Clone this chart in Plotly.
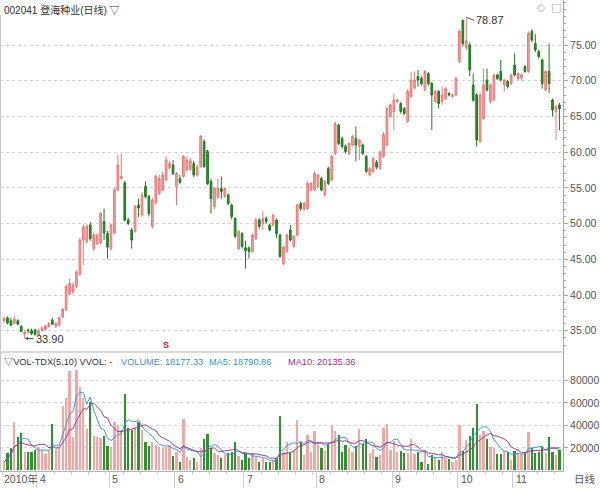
import plotly.graph_objects as go
import pandas as pd

# ---- data (daily bars, index = trading day) ----
open_ = [36.4, 36.8, 36.4, 36.0, 36.4, 35.6, 34.5, 35.1, 35.0, 35.1,
         34.4, 35.0, 35.2, 35.6, 36.5, 35.6, 35.8, 36.9, 37.9, 40.2,
         40.4, 41.2, 42.9, 47.7, 47.5, 49.8, 46.5, 47.2, 47.3, 50.3,
         48.6, 46.5, 48.7, 54.7, 56.3, 55.7, 50.5, 49.1, 48.9, 52.6,
         51.2, 55.2, 53.8, 49.6, 52.9, 54.2, 54.7, 56.1, 57.8, 58.2,
         55.2, 56.3, 56.6, 57.5, 57.6, 58.4, 56.8, 58.0, 61.5, 60.1,
         55.9, 52.4, 53.7, 54.9, 53.8, 54.0, 52.6, 50.7, 46.5, 48.6,
         46.6, 46.6, 46.1, 47.9, 50.5, 50.0, 50.7, 49.8, 49.8, 50.5,
         48.4, 44.4, 46.1, 49.1, 46.8, 48.4, 52.8, 52.0, 52.1, 54.7,
         54.7, 55.2, 56.3, 54.0, 57.7, 56.1, 59.8, 63.8, 61.9, 60.8,
         59.8, 61.0, 61.9, 60.8, 61.0, 59.4, 56.8, 57.3, 58.6, 57.7,
         59.4, 61.0, 65.0, 65.7, 67.1, 66.8, 66.1, 64.3, 67.8, 69.0,
         70.6, 70.3, 68.7, 71.0, 69.6, 67.1, 68.5, 67.1, 67.5, 68.2,
         67.8, 68.0, 72.7, 78.4, 74.6, 75.0, 69.4, 68.0, 61.5, 64.7,
         70.1, 67.1, 67.3, 70.8, 71.3, 69.4, 69.9, 69.6, 72.2, 70.3,
         70.4, 72.0, 71.3, 76.9, 75.2, 74.1, 72.9, 68.7, 71.3, 67.3,
         65.7, 66.6]
high = [37.0, 37.0, 36.8, 37.0, 36.6, 35.8, 35.0, 35.3, 35.3, 35.3,
        35.2, 35.6, 35.8, 36.2, 36.8, 36.2, 37.0, 38.2, 41.5, 42.3,
        41.8, 43.5, 48.0, 49.8, 49.9, 50.2, 48.8, 48.6, 51.6, 52.1,
        49.0, 50.0, 55.0, 59.6, 59.8, 56.0, 50.8, 49.4, 52.6, 53.5,
        54.4, 55.9, 54.0, 53.6, 56.9, 56.8, 57.3, 59.4, 58.8, 58.9,
        57.2, 56.8, 59.6, 59.4, 59.2, 58.8, 58.2, 62.4, 61.8, 60.3,
        56.3, 55.1, 56.3, 56.6, 55.1, 54.2, 52.8, 50.9, 49.1, 48.8,
        47.6, 46.8, 48.6, 50.8, 50.8, 51.7, 51.0, 50.0, 51.4, 50.7,
        48.6, 46.9, 48.6, 49.8, 48.4, 52.8, 53.1, 53.0, 55.9, 55.8,
        57.3, 57.0, 56.5, 56.1, 58.0, 59.6, 64.3, 64.0, 62.2, 61.0,
        61.4, 62.4, 63.6, 61.9, 61.2, 59.6, 57.9, 59.3, 58.9, 60.2,
        62.8, 66.4, 66.8, 68.2, 67.5, 67.0, 66.3, 68.8, 71.2, 71.3,
        71.5, 70.6, 71.5, 71.2, 69.8, 68.7, 68.7, 69.2, 69.1, 68.4,
        68.2, 70.6, 77.2, 78.6, 78.87, 75.4, 71.0, 68.3, 68.3, 71.7,
        71.7, 69.6, 71.0, 71.0, 72.9, 70.3, 70.1, 71.0, 73.8, 71.2,
        71.0, 72.2, 76.9, 77.2, 76.5, 74.3, 73.1, 71.5, 75.2, 67.5,
        66.6, 66.9]
low = [36.1, 35.9, 35.6, 35.9, 35.8, 34.8, 33.9, 34.6, 34.4, 34.3,
       34.2, 34.9, 35.0, 35.4, 35.8, 35.4, 35.6, 36.8, 37.8, 40.0,
       40.1, 41.0, 42.7, 44.2, 47.2, 47.6, 46.2, 47.0, 47.1, 47.7,
       45.1, 46.2, 48.5, 54.5, 56.2, 50.3, 49.8, 46.5, 48.7, 50.9,
       51.0, 53.5, 51.0, 49.3, 52.7, 54.0, 54.5, 55.9, 57.6, 56.8,
       52.6, 55.5, 56.4, 57.3, 57.4, 56.5, 56.6, 57.8, 57.8, 55.4,
       51.4, 52.0, 53.5, 53.5, 53.6, 52.6, 50.6, 48.0, 46.3, 46.5,
       43.7, 45.1, 45.9, 47.7, 49.3, 49.1, 50.0, 48.9, 49.6, 48.0,
       45.2, 44.2, 45.9, 47.5, 46.6, 48.2, 51.8, 51.8, 51.9, 54.5,
       54.5, 55.0, 54.5, 53.8, 55.4, 55.9, 59.6, 61.0, 60.5, 59.8,
       59.6, 60.8, 58.7, 58.9, 59.6, 57.1, 56.6, 57.1, 57.6, 57.5,
       59.2, 60.8, 64.8, 63.1, 66.9, 65.4, 65.2, 64.1, 67.6, 68.8,
       69.2, 69.3, 68.5, 69.3, 63.1, 66.9, 66.1, 66.6, 67.3, 67.8,
       67.6, 67.8, 72.5, 74.8, 74.3, 70.6, 67.0, 60.8, 61.3, 64.5,
       68.5, 66.8, 67.1, 70.1, 69.9, 68.5, 68.9, 69.4, 70.6, 70.1,
       70.0, 71.1, 71.1, 75.4, 74.0, 73.1, 68.9, 68.5, 68.3, 65.0,
       61.7, 63.1]
close = [36.7, 36.1, 35.8, 36.6, 35.9, 34.9, 34.8, 35.0, 34.6, 34.5,
         35.0, 35.4, 35.7, 36.0, 35.9, 36.0, 36.8, 38.0, 41.2, 41.6,
         41.4, 43.2, 47.7, 49.5, 49.6, 47.9, 48.4, 48.4, 51.4, 48.7,
         46.7, 49.8, 54.7, 58.2, 56.6, 50.5, 50.0, 47.7, 52.4, 52.2,
         54.0, 53.8, 51.4, 53.3, 56.6, 56.3, 56.8, 58.9, 58.4, 57.0,
         57.0, 55.8, 59.4, 58.9, 58.8, 56.8, 57.9, 62.2, 58.0, 55.6,
         53.5, 54.9, 54.9, 54.5, 54.9, 52.8, 51.0, 48.2, 48.9, 46.8,
         46.2, 46.1, 48.4, 50.5, 49.6, 50.7, 50.3, 49.1, 51.2, 48.6,
         45.4, 46.7, 48.4, 47.7, 48.2, 52.6, 52.1, 52.8, 55.6, 55.6,
         57.0, 56.8, 54.7, 55.9, 55.6, 59.4, 64.0, 61.2, 60.8, 60.1,
         61.2, 62.2, 61.0, 61.7, 59.8, 57.3, 57.7, 59.1, 57.9, 60.0,
         62.5, 66.1, 66.6, 67.3, 67.3, 65.7, 65.4, 68.5, 70.1, 70.1,
         70.1, 69.6, 71.3, 69.6, 68.0, 68.5, 66.8, 68.0, 68.9, 68.0,
         68.0, 70.3, 76.9, 75.2, 75.6, 71.5, 67.3, 61.7, 68.0, 69.4,
         68.7, 69.4, 70.8, 70.3, 70.1, 70.1, 69.2, 70.8, 70.8, 71.0,
         70.8, 71.3, 76.6, 75.7, 74.3, 73.4, 69.6, 71.3, 69.6, 65.9,
         66.4, 66.1]
volume = [7260, 15270, 19720, 42860, 29510, 33660, 16160, 16750, 16750, 18240,
          21200, 18240, 14380, 17340, 41080, 18240, 21200, 57700, 64200, 88550,
          30100, 89400, 74600, 64200, 36900, 61260, 31000, 30100, 28600, 31000,
          22100, 21200, 43460, 40490, 36000, 67800, 38100, 36000, 39000, 42900,
          36000, 25650, 22100, 25650, 22700, 21200, 19720, 21200, 22700, 13200,
          16160, 7850, 45830, 12300, 9300, 10800, 7850, 20300, 28000, 32200,
          19720, 15270, 13800, 11400, 13800, 15270, 16160, 25650, 13200, 9300,
          15270, 11400, 15270, 12300, 7850, 10800, 7850, 7260, 9300, 10800,
          48800, 16160, 25650, 15270, 17340, 44940, 25650, 13800, 31590, 16160,
          35150, 23280, 19720, 17340, 23280, 40490, 35150, 31590, 16160, 22700,
          19720, 16160, 22100, 36930, 23280, 28030, 15270, 19130, 12300, 13800,
          38120, 41080, 18240, 26250, 16160, 17340, 15270, 15270, 28030, 14380,
          16160, 7850, 18240, 5480, 13800, 11410, 9330, 16160, 11410, 10230,
          7850, 9330, 40490, 17340, 27000, 31000, 38120, 58880, 31590, 35150,
          28030, 21200, 20310, 14380, 14380, 17340, 16750, 9330, 17340, 15270,
          14380, 16160, 34600, 19880, 15270, 16160, 21500, 15270, 30100, 16600,
          13800, 18177.33]

month_labels = ["4", "5", "6", "7", "8", "9", "10", "11"]
month_first_idx = [10, 31, 50, 70, 91, 113, 132, 148]   # first trading day of each month
price_ticks = [35, 40, 45, 50, 55, 60, 65, 70, 75]
vol_ticks = [20000, 40000, 60000, 80000]
high_idx, high_val = 134, 78.87
low_idx, low_val = 6, 33.90
signal_idx = 47

# ---- derived ----
idx = list(range(len(close)))
vol_s = pd.Series(volume)
ma5 = vol_s.rolling(5, min_periods=1).mean()
ma10 = vol_s.rolling(10, min_periods=1).mean()
UP_FILL, UP_LINE = "#f6a5a5", "#ec7676"
DN_FILL, DN_LINE = "#2f922f", "#1d7a1d"
bar_colors = [UP_FILL if c >= o else DN_FILL for o, c in zip(open_, close)]

FONT = "Liberation Sans, Noto Sans CJK SC, DejaVu Sans, sans-serif"
PLOT_H = 471.0          # plot area height in px (488 - bottom margin)
SEP = 352.0             # separator between price and volume panels (px from top)
split = (PLOT_H - SEP) / PLOT_H

def py(px_from_top):
    return (PLOT_H - px_from_top) / PLOT_H

fig = go.Figure()
fig.add_trace(go.Candlestick(
    x=idx, open=open_, high=high, low=low, close=close,
    increasing=dict(line=dict(color=UP_LINE, width=1), fillcolor=UP_FILL),
    decreasing=dict(line=dict(color=DN_LINE, width=1), fillcolor=DN_FILL),
    whiskerwidth=0, showlegend=False, hoverinfo="skip",
    xaxis="x", yaxis="y"))
fig.add_trace(go.Bar(x=idx, y=volume, marker=dict(color=bar_colors, line=dict(width=0)),
                     width=0.66, showlegend=False, xaxis="x", yaxis="y2"))
fig.add_trace(go.Scatter(x=idx, y=ma5, mode="lines", line=dict(color="#3f9bd8", width=1),
                         showlegend=False, xaxis="x", yaxis="y2"))
fig.add_trace(go.Scatter(x=idx, y=ma10, mode="lines", line=dict(color="#9a3c96", width=1),
                         showlegend=False, xaxis="x", yaxis="y2"))

axis_font = dict(family=FONT, size=10.5, color="#555555")
fig.update_layout(
    width=600, height=488,
    margin=dict(l=0, r=37, t=0, b=17),
    paper_bgcolor="white", plot_bgcolor="white",
    font=dict(family=FONT, size=11, color="#333333"),
    bargap=0, hovermode=False,
    xaxis=dict(range=[-1.16, 162.03], anchor="y2", showgrid=False, zeroline=False,
               rangeslider=dict(visible=False),
               tickmode="array", tickvals=[m - 0.5 for m in month_first_idx],
               ticktext=[""] * len(month_first_idx), ticks="outside", ticklen=17,
               tickcolor="#cfcfcf", tickwidth=1,
               showline=True, linecolor="#b4b4b4", linewidth=1,
               minor=dict(ticks="outside", ticklen=3, tickcolor="#cfcfcf",
                          tickmode="linear", tick0=-0.5, dtick=5)),
    yaxis=dict(domain=[split, 1], side="right", anchor="x", range=[32.02, 81.30],
               tickmode="array", tickvals=price_ticks,
               ticktext=[f"{v:.2f}" for v in price_ticks],
               tickfont=axis_font, ticks="outside", ticklen=4, tickcolor="#a8a8a8",
               showgrid=True, gridcolor="#d4d4d4", griddash="dot", gridwidth=1,
               showline=True, linecolor="#a8a8a8", zeroline=False,
               minor=dict(ticks="outside", ticklen=2, tickcolor="#a8a8a8",
                          tickmode="linear", tick0=0, dtick=1)),
    yaxis2=dict(domain=[0, split], side="right", anchor="x", range=[-450, 105300],
                tickmode="array", tickvals=vol_ticks, ticktext=[str(v) for v in vol_ticks],
                tickfont=axis_font, ticks="outside", ticklen=4, tickcolor="#a8a8a8",
                showgrid=True, gridcolor="#d4d4d4", griddash="dot", gridwidth=1,
                showline=True, linecolor="#a8a8a8", zeroline=False),
)

shapes = [
    dict(type="line", xref="paper", yref="paper", x0=0, x1=1, y0=split, y1=split,
         line=dict(color="#b4b4b4", width=1)),
    dict(type="line", xref="paper", yref="paper", x0=0.001, x1=0.001, y0=0, y1=py(15),
         line=dict(color="#c4c4c4", width=1)),
]
fig.update_layout(shapes=shapes)

ann = []
ann.append(dict(xref="paper", yref="paper", x=0.003, y=py(10), xanchor="left", yanchor="middle",
                text="002041 登海种业(日线) ▽", showarrow=False,
                font=dict(family=FONT, size=10, color="#333333")))
ann.append(dict(xref="paper", yref="paper", x=541 / 563, y=py(8), xanchor="center", yanchor="middle",
                text="◇", showarrow=False, font=dict(family="DejaVu Sans", size=11, color="#b0b0b0")))
ann.append(dict(xref="paper", yref="paper", x=556 / 563, y=py(8), xanchor="center", yanchor="middle",
                text="□", showarrow=False, font=dict(family="DejaVu Sans", size=11, color="#b0b0b0")))
# volume panel header
hdr = [("▽VOL-TDX(5,10) VVOL: -", 2, "#333333"),
       ("VOLUME: 18177.33", 119, "#3b8fd0"),
       ("MA5: 18790.86", 207, "#3b8fd0"),
       ("MA10: 20135.36", 286, "#96308f")]
for t, xp, col in hdr:
    ann.append(dict(xref="paper", yref="paper", x=xp / 563, y=py(362), xanchor="left",
                    yanchor="middle", text=t, showarrow=False,
                    font=dict(family=FONT, size=9.2, color=col)))
# extreme labels
ann.append(dict(x=high_idx, y=high_val, xref="x", yref="y", text=f"{high_val:.2f}",
                showarrow=True, ax=8, ay=3, arrowhead=0, arrowwidth=1, arrowcolor="#555555",
                standoff=0, xanchor="left", font=dict(family=FONT, size=11, color="#333333")))
ann.append(dict(x=low_idx, y=low_val, xref="x", yref="y", text=f"{low_val:.2f}",
                showarrow=True, ax=9, ay=0, arrowhead=2, arrowsize=0.7, arrowwidth=1,
                arrowcolor="#555555", standoff=0, xanchor="left",
                font=dict(family=FONT, size=11, color="#333333")))
# signal marker
ann.append(dict(x=signal_idx, y=33.0, xref="x", yref="y", text="<b>S</b>", showarrow=False,
                font=dict(family=FONT, size=9, color="#e01010")))
# month labels on the time axis
ann.append(dict(xref="paper", yref="paper", x=0.003, y=py(479), xanchor="left", yanchor="middle",
                text="2010年", showarrow=False, font=dict(family=FONT, size=10.5, color="#555555")))
for lab, m in zip(month_labels, month_first_idx):
    ann.append(dict(xref="x", yref="paper", x=m - 0.5, y=py(479), xanchor="left", yanchor="middle",
                    xshift=1, text=lab, showarrow=False,
                    font=dict(family=FONT, size=10.5, color="#555555")))
ann.append(dict(xref="paper", yref="paper", x=572 / 563, y=py(479), xanchor="left", yanchor="middle",
                text="日线", showarrow=False, font=dict(family=FONT, size=10.5, color="#555555")))
fig.update_layout(annotations=ann)

fig.write_html("out.html", config={"displayModeBar": False},
               post_script="document.body.style.margin='0px';")
